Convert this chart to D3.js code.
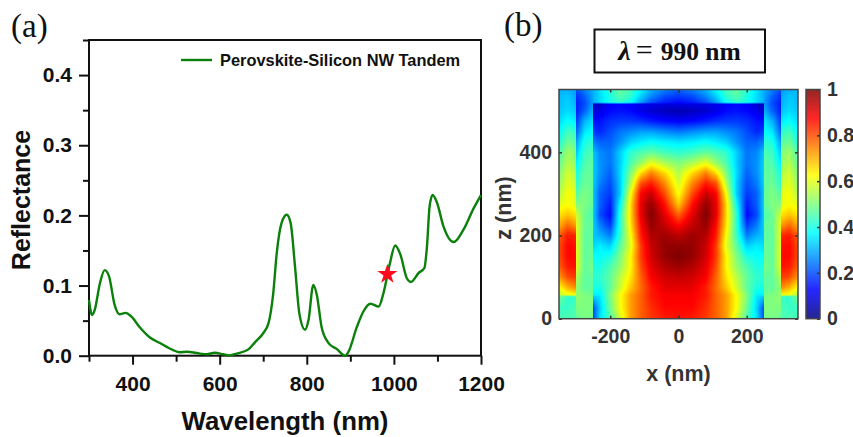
<!DOCTYPE html>
<html>
<head>
<meta charset="utf-8">
<script src="https://cdn.jsdelivr.net/npm/d3@7"></script>
<style>
  html, body { margin: 0; background: #fff; }
  svg { display: block; }
  text { font-family: "Liberation Sans", Arial, sans-serif; font-weight: bold; }
  .panel { font-family: "Liberation Serif", serif; font-weight: normal; font-size: 33px; fill: #111; }
  .left text { fill: #111; }
  .right text { fill: #333; }
</style>
</head>
<body>
<svg id="chart" width="853" height="437"></svg>
<script>
// reflectance curve
const wavelength = [300, 307, 313, 325, 336, 346, 359, 370, 384, 397, 416, 440, 463, 493, 508, 524, 555, 570, 589, 608, 623, 639, 666, 681, 700, 712, 723, 731, 742, 754, 763, 773, 783, 796, 804, 815, 823, 834, 850, 869, 888, 896, 915, 930, 946, 965, 976, 991, 1003, 1015, 1030, 1039, 1057, 1070, 1076, 1082, 1089, 1099, 1114, 1137, 1160, 1183, 1200];
const reflectance = [.0795, .058, .065, .103, .122, .113, .072, .059, .061, .056, .041, .026, .018, .008, .005, .0057, .003, .002, .0043, .002, .0005, .003, .009, .019, .032, .046, .089, .146, .189, .201, .189, .127, .06, .037, .051, .101, .087, .041, .018, .0095, 0, .006, .041, .063, .074, .07, .089, .132, .157, .144, .11, .105, .118, .125, .156, .213, .229, .218, .184, .162, .18, .21, .229];
const starPoint = [985, 0.116];
const legendLabel = 'Perovskite-Silicon NW Tandem';

const reflMajor = [0, 0.1, 0.2, 0.3, 0.4];
const reflMinor = [0.05, 0.15, 0.25, 0.35, 0.45];
const waveMajor = [400, 600, 800, 1000, 1200];
const waveMinor = [300, 500, 700, 900, 1100];

// field map of panel (b), read by eye. it is symmetric so only |x| is kept
const fieldX = [0, 40, 80, 110, 140, 170, 200, 230, 249.5, 250.5, 275, 299.5, 300.5, 325, 350];
const fieldZ = [0, 25, 54, 56, 75, 100, 125, 150, 175, 200, 225, 250, 275, 300, 325, 350, 375, 400, 425, 450, 475, 500, 517, 519, 535, 550];
const fieldRows = [
  [.86, .85, .82, .78, .72, .58, .45, .35, .20, .48, .50, .47, .45, .45, .45],
  [.87, .87, .83, .78, .72, .62, .48, .33, .20, .50, .50, .50, .45, .43, .43],
  [.88, .88, .85, .78, .72, .62, .50, .35, .33, .50, .50, .52, .42, .42, .50],
  [.88, .88, .85, .78, .72, .62, .50, .36, .36, .49, .50, .52, .62, .60, .55],
  [.90, .90, .85, .77, .68, .58, .47, .40, .40, .47, .47, .52, .74, .70, .62],
  [.93, .92, .88, .78, .65, .56, .47, .42, .42, .47, .47, .55, .82, .80, .72],
  [.97, .95, .90, .80, .63, .52, .45, .40, .40, .50, .47, .60, .86, .85, .78],
  [1.0, .98, .92, .82, .63, .50, .40, .38, .38, .48, .47, .60, .87, .87, .80],
  [.98, .98, .93, .82, .60, .47, .33, .36, .34, .48, .47, .60, .86, .87, .80],
  [.94, .97, .95, .85, .62, .43, .25, .30, .32, .47, .47, .60, .84, .85, .78],
  [.87, .93, .98, .87, .65, .42, .18, .25, .33, .47, .48, .60, .72, .77, .70],
  [.78, .90, 1.0, .90, .66, .42, .13, .20, .33, .45, .48, .58, .65, .68, .65],
  [.68, .86, .98, .90, .66, .38, .15, .22, .33, .47, .50, .50, .60, .62, .60],
  [.62, .80, .93, .88, .62, .33, .18, .22, .32, .47, .50, .46, .60, .62, .55],
  [.58, .74, .85, .80, .55, .33, .20, .25, .33, .47, .48, .42, .57, .60, .52],
  [.55, .66, .75, .66, .50, .34, .22, .27, .33, .47, .47, .40, .55, .58, .50],
  [.50, .54, .60, .52, .45, .33, .24, .27, .33, .47, .45, .36, .52, .55, .47],
  [.42, .44, .47, .45, .42, .33, .24, .26, .32, .45, .43, .32, .50, .53, .45],
  [.35, .36, .38, .36, .33, .27, .22, .22, .25, .42, .40, .28, .46, .48, .40],
  [.24, .26, .28, .28, .26, .24, .20, .16, .18, .38, .35, .22, .42, .44, .37],
  [.12, .13, .15, .17, .18, .18, .17, .14, .14, .35, .30, .18, .36, .38, .34],
  [.05, .06, .08, .10, .13, .14, .13, .10, .08, .30, .22, .15, .32, .34, .32],
  [.10, .10, .10, .11, .12, .13, .12, .08, .06, .28, .20, .15, .30, .33, .31],
  [.13, .15, .20, .28, .38, .42, .40, .34, .30, .28, .20, .15, .30, .33, .31],
  [.18, .20, .26, .33, .42, .46, .40, .34, .30, .29, .22, .17, .29, .32, .31],
  [.22, .25, .30, .37, .44, .47, .42, .35, .30, .30, .25, .20, .28, .30, .30]
];
const fieldXTicks = [-200, 0, 200];
const fieldZTicks = [0, 200, 400];
const barTicks = [0, 0.2, 0.4, 0.6, 0.8, 1];
const jetStops = ['#00007f', '#0000ff', '#007fff', '#00ffff', '#7fff7f', '#ffff00', '#ff7f00', '#ff0000', '#7f0000'];

const svg = d3.select('#chart');

// ---- panel (a)
const x = d3.scaleLinear().domain([300, 1200]).range([89, 481]);
const y = d3.scaleLinear().domain([0, 0.45]).range([355.7, 40]);

const left = svg.append('g').attr('class', 'left');

function styleAxis(g, width) {
  g.select('.domain').remove();
  g.selectAll('line').attr('stroke', '#111').attr('stroke-width', width);
}

left.append('g').attr('transform', 'translate(0,355.7)')
  .call(d3.axisBottom(x).tickValues(waveMajor).tickSize(9).tickPadding(11).tickFormat(d3.format('d')))
  .call(styleAxis, 2)
  .selectAll('text').attr('font-size', 21).attr('font-family', null).attr('fill', '#111');
left.append('g').attr('transform', 'translate(0,355.7)')
  .call(d3.axisBottom(x).tickValues(waveMinor).tickSize(6).tickFormat(''))
  .call(styleAxis, 2);
left.append('g').attr('transform', 'translate(89,0)')
  .call(d3.axisLeft(y).tickValues(reflMajor).tickSize(10).tickPadding(7).tickFormat(d3.format('.1f')))
  .call(styleAxis, 2)
  .selectAll('text').attr('font-size', 21).attr('font-family', null).attr('fill', '#111');
left.append('g').attr('transform', 'translate(89,0)')
  .call(d3.axisLeft(y).tickValues(reflMinor).tickSize(6).tickFormat(''))
  .call(styleAxis, 2);

left.append('rect')
  .attr('x', x(300)).attr('y', y(0.45))
  .attr('width', x(1200) - x(300)).attr('height', y(0) - y(0.45))
  .attr('fill', 'none').attr('stroke', '#111').attr('stroke-width', 2);

const line = d3.line()
  .x((d, i) => x(wavelength[i]))
  .y(d => y(d))
  .curve(d3.curveMonotoneX);

left.append('path')
  .attr('d', line(reflectance))
  .attr('fill', 'none').attr('stroke', '#0b800b').attr('stroke-width', 2.4);

left.append('path')
  .attr('d', d3.symbol(d3.symbolStar, 125)())
  .attr('transform', `translate(${x(starPoint[0])},${y(starPoint[1])})`)
  .attr('fill', '#ff0a1a');

left.append('line')
  .attr('x1', 181).attr('x2', 212).attr('y1', 60).attr('y2', 60)
  .attr('stroke', '#0b800b').attr('stroke-width', 2.4);
left.append('text').attr('x', 220).attr('y', 65.5)
  .attr('font-size', 16.4).text(legendLabel);

left.append('text').attr('x', 285).attr('y', 430)
  .attr('text-anchor', 'middle').attr('font-size', 25.8).text('Wavelength (nm)');
left.append('text')
  .attr('transform', 'translate(30,200) rotate(-90)')
  .attr('text-anchor', 'middle').attr('font-size', 25).text('Reflectance');

svg.append('text').attr('class', 'panel').attr('x', 11).attr('y', 37).text('(a)');
svg.append('text').attr('class', 'panel').attr('x', 504).attr('y', 36).text('(b)');

// ---- panel (b)
const fx = d3.scaleLinear().domain([-350, 350]).range([559, 798]);
const fz = d3.scaleLinear().domain([0, 551]).range([318.7, 89.5]);
const jet = d3.scaleLinear()
  .domain(jetStops.map((c, i) => i / (jetStops.length - 1)))
  .range(jetStops)
  .clamp(true);

const colIndex = d3.scaleLinear().domain(fieldX).range(fieldX.map((d, i) => i)).clamp(true);
const rowIndex = d3.scaleLinear().domain(fieldZ).range(fieldZ.map((d, i) => i)).clamp(true);

function fieldAt(xv, zv) {
  let c = colIndex(Math.abs(xv));
  let r = rowIndex(zv);
  let c0 = Math.min(Math.floor(c), fieldX.length - 2);
  let r0 = Math.min(Math.floor(r), fieldZ.length - 2);
  let tc = c - c0;
  let tr = r - r0;
  let a = fieldRows[r0][c0] * (1 - tc) + fieldRows[r0][c0 + 1] * tc;
  let b = fieldRows[r0 + 1][c0] * (1 - tc) + fieldRows[r0 + 1][c0 + 1] * tc;
  return a * (1 - tr) + b * tr;
}

const mapW = Math.round(fx(350) - fx(-350));
const mapH = Math.round(fz(0) - fz(551));
const canvas = document.createElement('canvas');
canvas.width = mapW;
canvas.height = mapH;
const ctx = canvas.getContext('2d');
for (let i = 0; i < mapW; i++) {
  for (let j = 0; j < mapH; j++) {
    ctx.fillStyle = jet(fieldAt(fx.invert(fx(-350) + i + 0.5), fz.invert(fz(551) + j + 0.5)));
    ctx.fillRect(i, j, 1, 1);
  }
}

const right = svg.append('g').attr('class', 'right');

right.append('image')
  .attr('x', fx(-350)).attr('y', fz(551))
  .attr('width', mapW).attr('height', mapH)
  .attr('href', canvas.toDataURL());

function styleFieldAxis(g) {
  g.select('.domain').remove();
  g.selectAll('line').attr('stroke', '#333').attr('stroke-width', 1.5);
  g.selectAll('text').attr('font-size', 19.5).attr('font-family', null).attr('fill', '#333');
}

right.append('g').attr('transform', `translate(0,${fz(0)})`)
  .call(d3.axisBottom(fx).tickValues(fieldXTicks).tickSize(-3).tickPadding(10).tickFormat(d => String(d)))
  .call(styleFieldAxis);
right.append('g').attr('transform', `translate(0,${fz(551)})`)
  .call(d3.axisTop(fx).tickValues(fieldXTicks).tickSize(-3).tickFormat(''))
  .call(styleFieldAxis);
right.append('g').attr('transform', `translate(${fx(-350)},0)`)
  .call(d3.axisLeft(fz).tickValues(fieldZTicks).tickSize(-3).tickPadding(7))
  .call(styleFieldAxis);
right.append('g').attr('transform', `translate(${fx(350)},0)`)
  .call(d3.axisRight(fz).tickValues(fieldZTicks).tickSize(-3).tickFormat(''))
  .call(styleFieldAxis);

right.append('rect')
  .attr('x', fx(-350)).attr('y', fz(551))
  .attr('width', fx(350) - fx(-350)).attr('height', fz(0) - fz(551))
  .attr('fill', 'none').attr('stroke', '#444').attr('stroke-width', 1.5);

right.append('text').attr('x', fx(0)).attr('y', 381)
  .attr('text-anchor', 'middle').attr('font-size', 21.5).text('x (nm)');
right.append('text')
  .attr('transform', 'translate(511,208) rotate(-90)')
  .attr('text-anchor', 'middle').attr('font-size', 21.5).text('z (nm)');

// colorbar
const barX = 806;
const barW = 14;
const bar = d3.scaleLinear().domain([0, 1]).range([318.7, 89.5]);
const barSteps = d3.range(Math.round(bar(0) - bar(1)));
right.selectAll('rect.step')
  .data(barSteps)
  .enter().append('rect')
    .attr('class', 'step')
    .attr('x', barX)
    .attr('y', d => bar(1) + d)
    .attr('width', barW)
    .attr('height', 1.2)
    .attr('fill', d => jet(bar.invert(bar(1) + d + 0.5)));
right.append('g').attr('transform', `translate(${barX + barW},0)`)
  .call(d3.axisRight(bar).tickValues(barTicks).tickSize(-3).tickPadding(7).tickFormat(d3.format('~g')))
  .call(styleFieldAxis)
  .selectAll('text').attr('text-anchor', 'start');
right.append('rect')
  .attr('x', barX).attr('y', bar(1))
  .attr('width', barW).attr('height', bar(0) - bar(1))
  .attr('fill', 'none').attr('stroke', '#444').attr('stroke-width', 1.5);

// title box
const boxG = svg.append('g');
boxG.append('rect')
  .attr('x', 594.5).attr('y', 29.5).attr('width', 170.5).attr('height', 43)
  .attr('fill', '#fff').attr('stroke', '#111').attr('stroke-width', 2);
const title = boxG.append('text').attr('x', 679.5).attr('y', 59.5)
  .attr('text-anchor', 'middle').attr('fill', '#111').attr('font-family', 'Liberation Serif');
title.append('tspan').attr('font-family', 'Liberation Serif').attr('font-style', 'italic').attr('font-size', 28).text('\u03bb');
title.append('tspan').attr('font-family', 'Liberation Serif').attr('font-weight', 'normal').attr('font-size', 30).attr('dx', 5).text('=');
title.append('tspan').attr('font-family', 'Liberation Serif').attr('font-size', 25.5).attr('dx', 8).text('990 nm');
</script>
</body>
</html>
